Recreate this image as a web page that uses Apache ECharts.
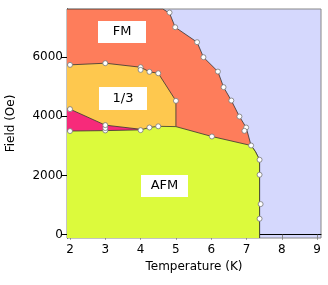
<!DOCTYPE html>
<html>
<head>
<meta charset="utf-8">
<script src="https://cdn.jsdelivr.net/npm/echarts@6/dist/echarts.min.js"></script>
<style>html,body{margin:0;padding:0;background:#fff;}#c{width:328px;height:285px;}</style>
</head>
<body>
<div id="c"></div>
<script>
// Axis ranges / ticks
var xTicks = [2, 3, 4, 5, 6, 7, 8, 9];
var yTicks = [0, 2000, 4000, 6000];
var xMin = 1.915, xMax = 9.11;
var yMin = -110, yMax = 7620;

// Phase boundaries (T in K, H in Oe)
var fmT = [1.915, 4.63, 4.82, 4.98, 5.60, 5.78, 6.19, 6.35, 6.57, 6.80, 6.99, 7.13, 7.25, 7.37, 7.37];
var fmH = [7620, 7620, 7480, 7004, 6500, 5993, 5508, 4982, 4530, 3990, 3620, 3012, 2810, 2530, -110];

var thirdT = [1.915, 2.0, 3.0, 4.0, 4.25, 4.5, 5.0, 5.0];
var thirdH = [5734, 5734, 5790, 5655, 5500, 5450, 4520, 3650];

var pinkT = [1.915, 2.0, 3.0, 4.0];
var pinkH = [4250, 4240, 3700, 3560];

var afmT = [1.915, 2.0, 3.0, 4.0, 4.25, 4.5, 5.0, 6.02, 7.13, 7.25, 7.37, 7.37];
var afmH = [3500, 3500, 3515, 3540, 3620, 3660, 3650, 3316, 3012, 2810, 2530, -110];

// Measured points
var ptT = [2.0, 3.0, 4.0, 4.0, 4.25, 4.5, 2.0, 3.0, 3.0, 3.0, 4.0, 4.25, 4.5, 2.0, 5.0,
           4.82, 4.98, 5.6, 5.78, 6.19, 6.35, 6.57, 6.8, 6.99, 6.94, 7.13, 6.02, 7.37, 7.37, 7.4, 7.37];
var ptH = [5734, 5790, 5655, 5565, 5500, 5450, 3500, 3520, 3600, 3700, 3530, 3620, 3660, 4240, 4520,
           7500, 7004, 6500, 5993, 5508, 4982, 4530, 3990, 3620, 3508, 3012, 3316, 2530, 2024, 1035, 540];

// Phase labels
var phaseNames = ['FM', '1/3', 'AFM'];

function zip(a, b) { return a.map(function (v, i) { return [v, b[i]]; }); }

function areaSeries(T, H, color, z) {
  return {
    type: 'line', data: zip(T, H), symbol: 'none', silent: true, z: z,
    lineStyle: { color: '#333', width: 0.8 },
    areaStyle: { color: color, opacity: 1, origin: 'start' }
  };
}

var chart = echarts.init(document.getElementById('c'), null, { renderer: 'canvas' });
var font = 'DejaVu Sans';
chart.setOption({
  animation: false,
  grid: { left: 67, right: 7, top: 9, bottom: 47, outerBoundsMode: 'none', containLabel: false,
          show: true, backgroundColor: '#d5d8fd', borderColor: '#888', borderWidth: 1 },
  xAxis: {
    type: 'value', min: xMin, max: xMax,
    name: 'Temperature (K)', nameLocation: 'middle', nameGap: 19,
    nameTextStyle: { fontFamily: font, fontSize: 12, color: '#000' },
    axisLine: { show: true, lineStyle: { color: '#000', width: 1 } },
    axisTick: { show: true, customValues: xTicks, length: 5, lineStyle: { color: '#888' } },
    axisLabel: { customValues: xTicks, fontFamily: font, fontSize: 12, color: '#000', margin: 6,
                 formatter: function (v) { return String(v); } },
    splitLine: { show: false }
  },
  yAxis: {
    type: 'value', min: yMin, max: yMax,
    name: 'Field (Oe)', nameLocation: 'middle', nameGap: 50,
    nameTextStyle: { fontFamily: font, fontSize: 12, color: '#000' },
    axisLine: { show: true, lineStyle: { color: '#000', width: 1 } },
    axisTick: { show: true, customValues: yTicks, length: 6, lineStyle: { color: '#000' } },
    axisLabel: { customValues: yTicks, fontFamily: font, fontSize: 12, color: '#000', margin: 4,
                 formatter: function (v) { return String(v); } },
    splitLine: { show: false }
  },
  series: [
    areaSeries(fmT, fmH, '#fe7d5b', 2),
    areaSeries(thirdT, thirdH, '#fec84e', 3),
    areaSeries(pinkT, pinkH, '#f72a7a', 4),
    areaSeries(afmT, afmH, '#dcfa3c', 5),
    {
      type: 'scatter', data: zip(ptT, ptH), symbol: 'circle', symbolSize: 5, silent: true, z: 10,
      itemStyle: { color: '#fff', borderColor: '#777', borderWidth: 0.8, opacity: 1 }
    }
  ],
  graphic: [
    { type: 'rect', shape: { x: 98, y: 21, width: 48, height: 22 }, style: { fill: '#fff' }, z: 100 },
    { type: 'text', x: 122, y: 32, style: { text: phaseNames[0], font: '13px "DejaVu Sans"', fill: '#000', textAlign: 'center', textVerticalAlign: 'middle' }, z: 101 },
    { type: 'rect', shape: { x: 99, y: 87, width: 48, height: 23 }, style: { fill: '#fff' }, z: 100 },
    { type: 'text', x: 123, y: 98.5, style: { text: phaseNames[1], font: '13px "DejaVu Sans"', fill: '#000', textAlign: 'center', textVerticalAlign: 'middle' }, z: 101 },
    { type: 'rect', shape: { x: 141, y: 175, width: 47, height: 22 }, style: { fill: '#fff' }, z: 100 },
    { type: 'text', x: 164.5, y: 186, style: { text: phaseNames[2], font: '13px "DejaVu Sans"', fill: '#000', textAlign: 'center', textVerticalAlign: 'middle' }, z: 101 }
  ]
});
</script>
</body>
</html>
